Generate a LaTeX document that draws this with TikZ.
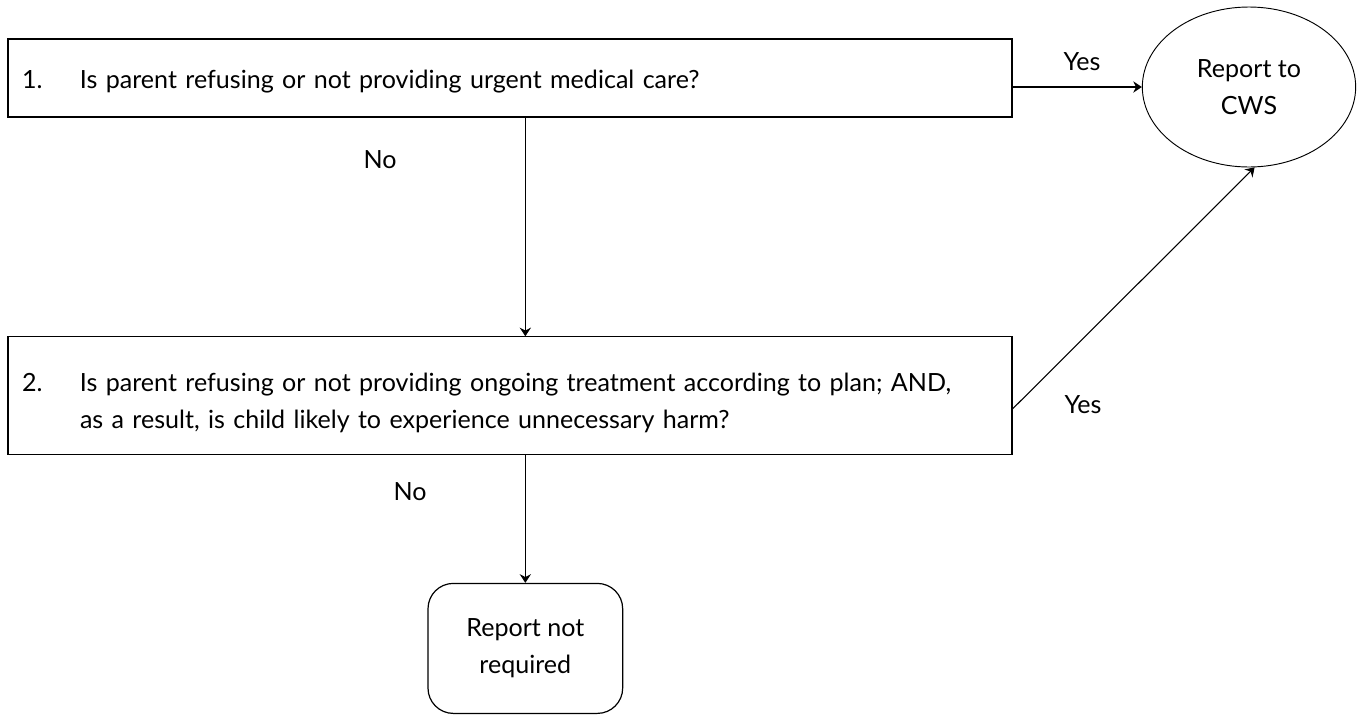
\documentclass[tikz,border=0pt]{standalone}
\usepackage{fontspec}
\setmainfont{Lato}
\usetikzlibrary{positioning, arrows.meta, shapes.geometric}

\begin{document}
\begin{tikzpicture}[
  x=0.75pt, y=-0.75pt,
  font=\fontsize{18.8}{27.75}\selectfont,
  qbox/.style={draw=black, line width=0.9pt, align=left, text width=732pt,
               inner xsep=10.5pt, inner ysep=0pt},
  outcm/.style={draw=black, line width=0.7pt, ellipse, align=center,
                minimum width=160pt, minimum height=120pt, inner sep=0pt},
  endbox/.style={draw=black, line width=0.9pt, rounded corners=19pt, align=center,
                 minimum width=146pt, minimum height=97.5pt},
  arr/.style={-{Stealth[length=6.5pt,width=8.5pt,inset=2.2pt]}, line width=0.8pt, draw=black},
  lbl/.style={inner sep=0pt}
]
\useasboundingbox (0,0) rectangle (1357,715);
\newcommand{\qnum}[1]{\makebox[43.5pt][l]{#1}}
\node[qbox, minimum height=58.5pt, text height=19pt, text depth=4pt] (q1) at (510,78)
  {\qnum{1.}Is parent refusing or not providing urgent medical care?};
\node[qbox, minimum height=88pt, below=164pt of q1] (q2)
  {\rule{0pt}{25pt}\qnum{2.}Is parent refusing or not providing ongoing treatment according to plan; AND,\\
   \hspace*{43.5pt}as a result, is child likely to experience unnecessary harm?};
\node[outcm] (cws) at (1249,87) {Report to\\CWS};
\node[endbox, below=96pt of q2, xshift=11.5pt] (done) {Report not\\required};
% connectors
\draw[arr] (q1.east |- cws.west) -- (cws.west);
\draw[arr] (q1.south -| done.north) -- (q2.north -| done.north);
\draw[arr] ([yshift=-10pt]q2.east) -- (cws.-86);
\draw[arr] (q2.south -| done.north) -- (done.north);
% labels
\node[lbl] (y1) at (1082,62) {Yes};
\node[lbl] (n1) at (380,160) {No};
\node[lbl] (y2) at (1083,405) {Yes};
\node[lbl] (n2) at (410,492) {No};
\end{tikzpicture}
\end{document}
